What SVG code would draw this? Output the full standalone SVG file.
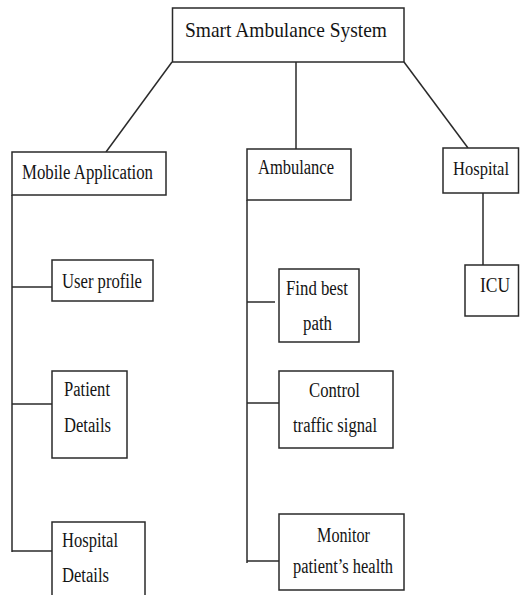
<svg xmlns="http://www.w3.org/2000/svg" width="520" height="595" viewBox="0 0 520 595">
  <style>
    .box { fill: #ffffff; stroke: #2a2a2a; stroke-width: 1.5; }
    .link { fill: none; stroke: #2a2a2a; stroke-width: 1.5; }
    .lbl { font-family: "Liberation Serif", "Times New Roman", serif; font-size: 20.5px; fill: #141414; }
    .title { font-size: 22px; }
    .edge { font-size: 18px; }
  </style>
  <rect width="520" height="595" fill="#ffffff"/>

  <!-- connectors -->
  <g id="connectors">
    <line class="link" x1="172" y1="62" x2="106" y2="152"/>
    <line class="link" x1="296" y1="62" x2="296" y2="149"/>
    <line class="link" x1="404" y1="62" x2="468" y2="148"/>
    <!-- mobile application branch -->
    <line class="link" x1="12" y1="195" x2="12" y2="552"/>
    <line class="link" x1="12" y1="287" x2="52" y2="287"/>
    <line class="link" x1="12" y1="404" x2="54" y2="404"/>
    <line class="link" x1="12" y1="551" x2="52" y2="551"/>
    <!-- ambulance branch -->
    <line class="link" x1="247" y1="200" x2="247" y2="563"/>
    <line class="link" x1="247" y1="302" x2="275" y2="302"/>
    <line class="link" x1="247" y1="403" x2="281" y2="403"/>
    <line class="link" x1="247" y1="561" x2="279" y2="561"/>
    <!-- hospital branch -->
    <line class="link" x1="483" y1="193" x2="483" y2="265"/>
  </g>

  <g id="root">
    <rect class="box" x="172.5" y="8" width="231.5" height="54"/>
    <text class="lbl title" x="185" y="37" textLength="202" lengthAdjust="spacingAndGlyphs">Smart Ambulance System</text>
  </g>

  <g id="mobile-application">
    <rect class="box" x="12" y="152" width="154" height="43"/>
    <text class="lbl" x="22" y="179" textLength="131" lengthAdjust="spacingAndGlyphs">Mobile Application</text>
  </g>

  <g id="ambulance">
    <rect class="box" x="247" y="149" width="104" height="51"/>
    <text class="lbl" x="258" y="174" textLength="76" lengthAdjust="spacingAndGlyphs">Ambulance</text>
  </g>

  <g id="hospital">
    <rect class="box" x="443" y="148" width="75.5" height="45"/>
    <text class="lbl edge" x="453" y="175" textLength="56" lengthAdjust="spacingAndGlyphs">Hospital</text>
  </g>

  <g id="icu">
    <rect class="box" x="465" y="265" width="53.5" height="51"/>
    <text class="lbl" x="480" y="292" textLength="30" lengthAdjust="spacingAndGlyphs">ICU</text>
  </g>

  <g id="user-profile">
    <rect class="box" x="52" y="260" width="101" height="41"/>
    <text class="lbl" x="62" y="288" textLength="80" lengthAdjust="spacingAndGlyphs">User profile</text>
  </g>

  <g id="patient-details">
    <rect class="box" x="52" y="371" width="75" height="87"/>
    <text class="lbl" x="64" y="396" textLength="46" lengthAdjust="spacingAndGlyphs">Patient</text>
    <text class="lbl" x="64" y="432" textLength="47" lengthAdjust="spacingAndGlyphs">Details</text>
  </g>

  <g id="hospital-details">
    <rect class="box" x="52" y="522" width="93" height="80"/>
    <text class="lbl" x="62" y="547" textLength="56" lengthAdjust="spacingAndGlyphs">Hospital</text>
    <text class="lbl" x="62" y="582" textLength="47" lengthAdjust="spacingAndGlyphs">Details</text>
  </g>

  <g id="find-best-path">
    <rect class="box" x="279" y="269" width="80" height="73"/>
    <text class="lbl" x="286" y="295" textLength="62" lengthAdjust="spacingAndGlyphs">Find best</text>
    <text class="lbl" x="303" y="330" textLength="29" lengthAdjust="spacingAndGlyphs">path</text>
  </g>

  <g id="control-traffic-signal">
    <rect class="box" x="279" y="371" width="114" height="77"/>
    <text class="lbl" x="309" y="397" textLength="51" lengthAdjust="spacingAndGlyphs">Control</text>
    <text class="lbl" x="293" y="432" textLength="84" lengthAdjust="spacingAndGlyphs">traffic signal</text>
  </g>

  <g id="monitor-health">
    <rect class="box" x="279" y="514" width="125" height="76"/>
    <text class="lbl" x="317" y="542" textLength="53" lengthAdjust="spacingAndGlyphs">Monitor</text>
    <text class="lbl" x="293" y="573" textLength="100" lengthAdjust="spacingAndGlyphs">patient’s health</text>
  </g>
</svg>
